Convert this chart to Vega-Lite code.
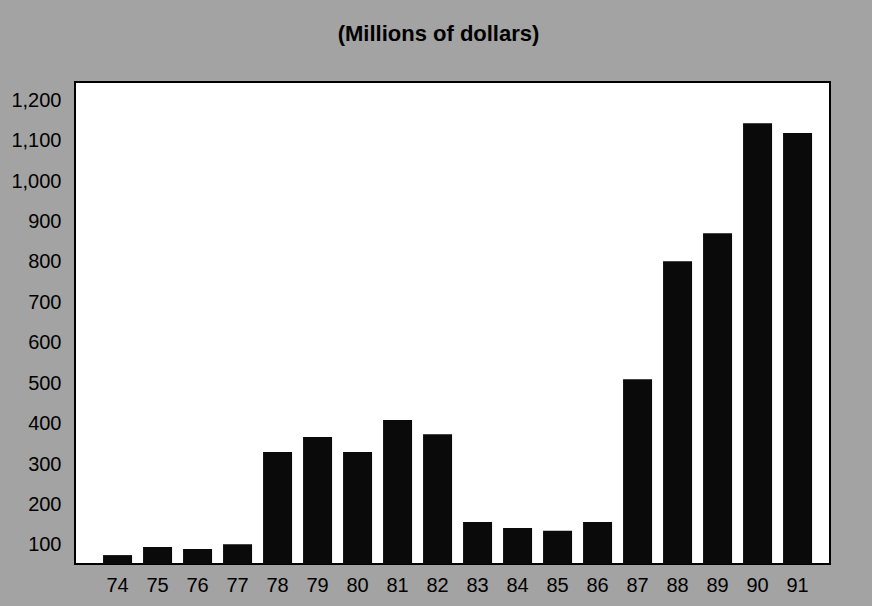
{
  "$schema": "https://vega.github.io/schema/vega-lite/v6.json",
  "width": 755,
  "height": 482,
  "autosize": {"type": "none"},
  "padding": {"left": 75, "top": 82, "right": 42, "bottom": 42},
  "background": "#a3a3a3",
  "title": {
    "text": "(Millions of dollars)",
    "font": "Liberation Sans",
    "fontSize": 22,
    "fontWeight": "bold",
    "color": "#000000",
    "anchor": "middle",
    "offset": 36,
    "dx": -14
  },
  "data": {
    "values": [
      {"year": "74", "value": 75},
      {"year": "75", "value": 95},
      {"year": "76", "value": 90},
      {"year": "77", "value": 102},
      {"year": "78", "value": 330},
      {"year": "79", "value": 367},
      {"year": "80", "value": 330},
      {"year": "81", "value": 409},
      {"year": "82", "value": 374},
      {"year": "83", "value": 157},
      {"year": "84", "value": 142},
      {"year": "85", "value": 135},
      {"year": "86", "value": 157},
      {"year": "87", "value": 510},
      {"year": "88", "value": 802},
      {"year": "89", "value": 871},
      {"year": "90", "value": 1143},
      {"year": "91", "value": 1119}
    ]
  },
  "mark": {"type": "bar", "color": "#0a0a0a", "clip": true},
  "encoding": {
    "x": {
      "field": "year",
      "type": "ordinal",
      "sort": null,
      "scale": {"paddingInner": 0.275, "paddingOuter": 0.575, "align": 0.61},
      "axis": {
        "title": null,
        "labelAngle": 0,
        "ticks": false,
        "domain": false,
        "labelFont": "Liberation Sans",
        "labelFontSize": 20,
        "labelColor": "#000000",
        "labelPadding": 11
      }
    },
    "y": {
      "field": "value",
      "type": "quantitative",
      "scale": {"domain": [53, 1245], "zero": false, "nice": false},
      "axis": {
        "title": null,
        "values": [100, 200, 300, 400, 500, 600, 700, 800, 900, 1000, 1100, 1200],
        "format": ",.0f",
        "grid": false,
        "ticks": false,
        "domain": false,
        "labelFont": "Liberation Sans",
        "labelFontSize": 20,
        "labelColor": "#000000",
        "labelPadding": 14,
        "labelBaseline": "middle"
      }
    }
  },
  "config": {
    "view": {"fill": "#ffffff", "stroke": "#000000", "strokeWidth": 2}
  }
}
